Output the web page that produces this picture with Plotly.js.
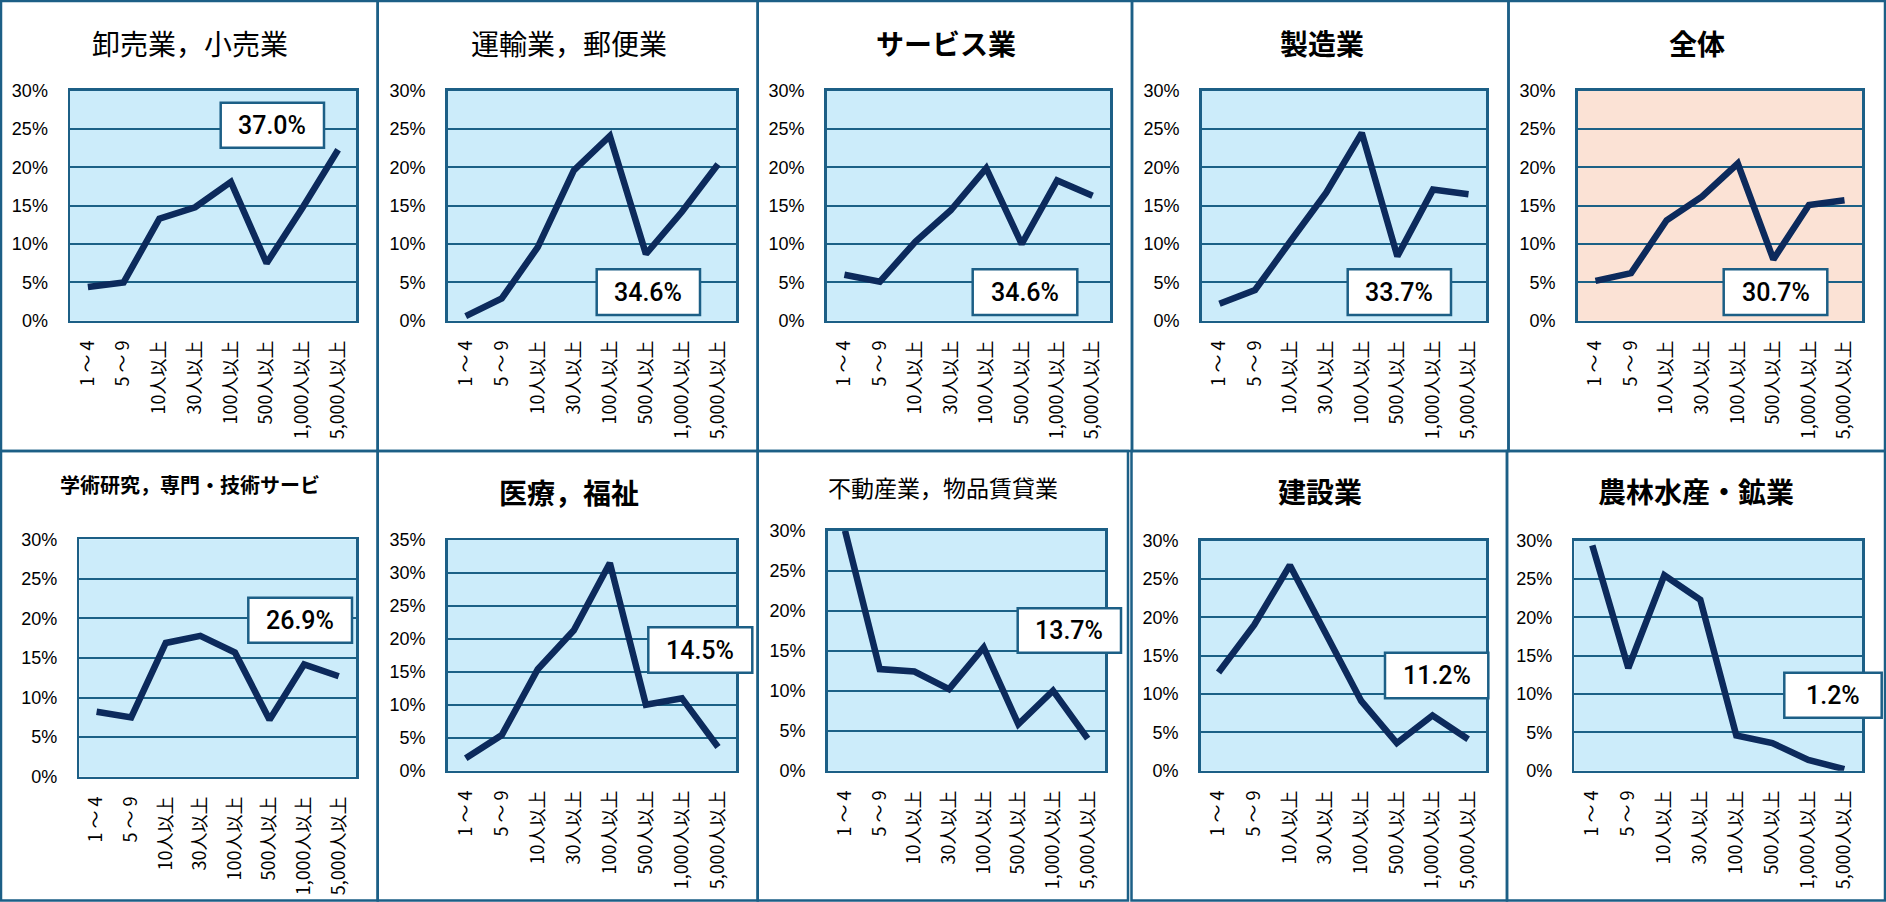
<!DOCTYPE html>
<html>
<head>
<meta charset="utf-8">
<script src="https://cdn.plot.ly/plotly-3.0.1.min.js"></script>
<style>
  html, body { margin: 0; padding: 0; background: #ffffff; }
  #chart { width: 1886px; height: 902px; }
</style>
</head>
<body>
<div id="chart"></div>
<script>
// ---------- data ----------
const categories = ['1 ～ 4', '5 ～ 9', '10人以上', '30人以上', '100人以上', '500人以上', '1,000人以上', '5,000人以上'];

const titles = [
  '卸売業，小売業', '運輸業，郵便業', 'サービス業', '製造業', '全体',
  '学術研究，専門・技術サービ', '医療，福祉', '不動産業，物品賃貸業', '建設業', '農林水産・鉱業'
];

const wholesaleRetail   = [4.4, 5.0, 13.3, 14.8, 18.1, 7.5, 14.7, 22.3];
const transportPostal   = [0.6, 2.9, 9.6, 19.6, 24.1, 8.7, 14.2, 20.4];
const services          = [6.0, 5.1, 10.3, 14.4, 19.9, 10.0, 18.3, 16.3];
const manufacturing     = [2.2, 4.0, 10.4, 16.7, 24.5, 8.4, 17.1, 16.5];
const overall           = [5.2, 6.2, 13.1, 16.2, 20.5, 8.0, 15.1, 15.7];
const academicProf      = [8.2, 7.5, 16.9, 17.8, 15.7, 7.2, 14.2, 12.7];
const medicalWelfare    = [1.9, 5.4, 15.4, 21.3, 31.5, 10.0, 11.0, 3.6];
const realEstateRental  = [30.0, 12.7, 12.4, 10.2, 15.4, 5.8, 10.0, 4.0];
const construction      = [12.8, 19.0, 26.8, 18.0, 9.1, 3.6, 7.2, 4.1];
const agriMining        = [29.4, 13.4, 25.5, 22.3, 4.6, 3.6, 1.4, 0.2];

const boxLabels = ['37.0%', '34.6%', '34.6%', '33.7%', '30.7%', '26.9%', '14.5%', '13.7%', '11.2%', '1.2%'];
const yMax = [30, 30, 30, 30, 30, 30, 35, 30, 30, 30];

const seriesList = [wholesaleRetail, transportPostal, services, manufacturing, overall,
                    academicProf, medicalWelfare, realEstateRental, construction, agriMining];

// ---------- layout geometry (pixels) ----------
const W = 1886, H = 902;
const px = x => x / W;
const py = y => 1 - y / H;

// panel frames [x0, y0, x1, y1]
const frames = [
  [1, 1, 377.7, 451], [377.7, 1, 757.7, 451], [757.7, 1, 1132, 451], [1132, 1, 1508.5, 451], [1508.5, 1, 1885, 451],
  [1, 451, 377.7, 900.5], [377.7, 451, 757.7, 900.5], [757.7, 451, 1128, 900.5], [1131.5, 451, 1507, 900.5], [1507, 451, 1885, 900.5]
];
// plot areas [x0, x1, yTop, yBottom]
const plots = [
  [70, 356, 90.7, 320.7], [447.7, 736, 90.7, 320.7], [826.7, 1110.3, 90.7, 320.7], [1201.7, 1486.3, 90.7, 320.7], [1577.7, 1862.3, 90.7, 320.7],
  [79.3, 356, 539.3, 776.7], [447.7, 736, 540, 770.7], [827.7, 1105, 530.7, 770.7], [1200.7, 1486, 540.7, 770.7], [1574.3, 1862.3, 540.7, 770.7]
];
// title centres [x, y, size, bold]
const titlePos = [
  [190, 42.5, 28, false], [569, 42.5, 28, false], [946, 42.5, 28, true], [1321.5, 42.5, 28, true], [1697, 42.5, 28, true],
  [190, 484.5, 20, true], [569, 491.5, 28, true], [943.3, 487.5, 23, false], [1320.3, 491, 28, true], [1695.7, 491, 28, true]
];
// value boxes [x0, y0, x1, y1]
const boxes = [
  [220.7, 102.7, 324, 147.7], [596.7, 269.3, 700, 315], [972.7, 269.3, 1077.3, 315], [1347.7, 269.3, 1451, 315], [1723.7, 269.3, 1827.3, 315],
  [248.3, 597.7, 352, 642.7], [648.3, 627.3, 752.3, 672.7], [1017.7, 608.3, 1121, 652.7], [1385, 652.7, 1488.3, 698.3], [1784.3, 672.7, 1881.7, 717.7]
];

const frameColor = '#1c5f86';
const gridColor = '#1b6186';
const lineColor = '#0c2a5c';
const bgBlue = '#ccecfa';
const bgPeach = '#fbe2d5';

const traces = [];
const layout = {
  width: W, height: H,
  margin: {l: 0, r: 0, t: 0, b: 0},
  paper_bgcolor: '#ffffff',
  showlegend: false,
  shapes: [],
  annotations: []
};

for (let i = 0; i < 10; i++) {
  const n = i + 1;
  const xa = 'xaxis' + (n === 1 ? '' : n);
  const ya = 'yaxis' + (n === 1 ? '' : n);
  const [x0, x1, yt, yb] = plots[i];

  traces.push({
    type: 'scatter', mode: 'lines',
    x: categories, y: seriesList[i],
    xaxis: 'x' + (n === 1 ? '' : n), yaxis: 'y' + (n === 1 ? '' : n),
    line: {color: lineColor, width: 6.5},
    hoverinfo: 'skip'
  });

  layout[xa] = {
    domain: [px(x0), px(x1)],
    anchor: 'y' + (n === 1 ? '' : n),
    type: 'category',
    range: [-0.5, 7.5],
    tickangle: -90,
    ticks: '',
    ticklabelstandoff: 10,
    tickfont: {family: '"Noto Sans CJK JP", sans-serif', size: 18, color: '#000000'},
    showgrid: false, zeroline: false,
    showline: true, mirror: true, linecolor: frameColor, linewidth: 2.5,
    fixedrange: true
  };
  layout[ya] = {
    domain: [py(yb), py(yt)],
    anchor: 'x' + (n === 1 ? '' : n),
    range: [0, yMax[i]],
    dtick: 5,
    tick0: 0,
    ticksuffix: '%',
    ticks: '',
    ticklabelstandoff: 16,
    tickfont: {family: '"Liberation Sans", Arial, sans-serif', size: 18, color: '#000000'},
    showgrid: true, gridcolor: gridColor, gridwidth: 2,
    zeroline: false,
    showline: true, mirror: true, linecolor: frameColor, linewidth: 2.5,
    fixedrange: true
  };

  // plot background
  layout.shapes.push({
    type: 'rect', xref: 'paper', yref: 'paper', layer: 'below',
    x0: px(x0), x1: px(x1), y0: py(yb), y1: py(yt),
    fillcolor: i === 4 ? bgPeach : bgBlue, line: {width: 0}
  });

  // panel frame
  const f = frames[i];
  layout.shapes.push({
    type: 'rect', xref: 'paper', yref: 'paper', layer: 'above',
    x0: px(f[0]), x1: px(f[2]), y0: py(f[3]), y1: py(f[1]),
    fillcolor: 'rgba(0,0,0,0)', line: {color: frameColor, width: 2.5}
  });

  // value box
  const b = boxes[i];
  layout.shapes.push({
    type: 'rect', xref: 'paper', yref: 'paper', layer: 'above',
    x0: px(b[0]), x1: px(b[2]), y0: py(b[3]), y1: py(b[1]),
    fillcolor: '#ffffff', line: {color: frameColor, width: 2.5}
  });
  layout.annotations.push({
    xref: 'paper', yref: 'paper',
    x: px((b[0] + b[2]) / 2), y: py((b[1] + b[3]) / 2),
    xanchor: 'center', yanchor: 'middle',
    text: boxLabels[i], showarrow: false,
    font: {family: 'Roboto, "Liberation Sans", sans-serif', size: 25, color: '#000000', weight: 500}
  });

  // title
  const t = titlePos[i];
  layout.annotations.push({
    xref: 'paper', yref: 'paper',
    x: px(t[0]), y: py(t[1]),
    xanchor: 'center', yanchor: 'middle',
    text: titles[i], showarrow: false,
    font: {family: '"Noto Sans CJK JP", sans-serif', size: t[2], color: '#000000', weight: t[3] ? 700 : 400}
  });
}

Plotly.newPlot('chart', traces, layout, {staticPlot: true, displayModeBar: false});
</script>
</body>
</html>
